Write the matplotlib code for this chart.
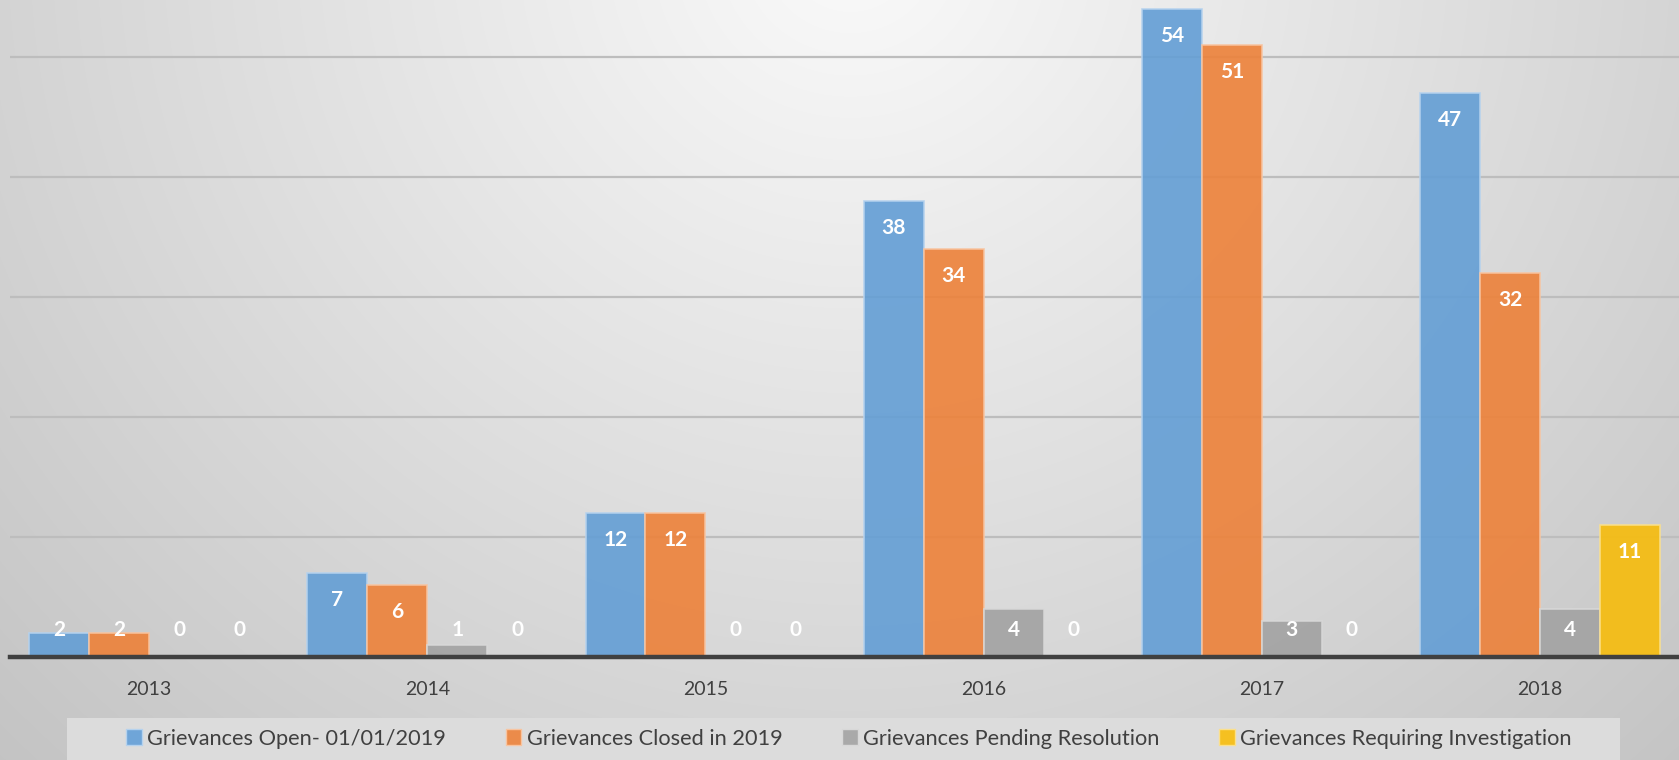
import numpy as np
import matplotlib
matplotlib.use("Agg")
import matplotlib.pyplot as plt
from matplotlib.patches import Rectangle, Patch

years = ["2013", "2014", "2015", "2016", "2017", "2018"]
series_names = ["Grievances Open- 01/01/2019", "Grievances Closed in 2019",
                "Grievances Pending Resolution", "Grievances Requiring Investigation"]
open_vals = [2, 7, 12, 38, 54, 47]
closed_vals = [2, 6, 12, 34, 51, 32]
pending_vals = [0, 1, 0, 4, 3, 4]
investig_vals = [0, 0, 0, 0, 0, 11]
series_vals = [open_vals, closed_vals, pending_vals, investig_vals]
colors = ["#639ed5", "#ed8139", "#a2a2a2", "#f7bc0b"]
legend_colors = ["#6fa5d8", "#eb8b4a", "#a9a9a9", "#f5c021"]
edges = ["#b5d2ee", "#f8c4a0", "#d8d8d8", "#fbe08c"]

plt.rcParams['font.family'] = ['Lato', 'DejaVu Sans']

W, H = 1679, 760
fig = plt.figure(figsize=(W / 100, H / 100), dpi=100)

# background gradient
bg = fig.add_axes([0, 0, 1, 1])
yy, xx = np.mgrid[0:H, 0:W]
d = np.sqrt(((xx - 850) / 850) ** 2 + ((yy + 50) / 810) ** 2)
val = np.clip(0.98 - 0.15 * d, 0, 1)
img = np.dstack([val, val, val])
bg.imshow(img, aspect='auto', extent=[0, 1, 0, 1], origin='upper')
bg.set_axis_off()
bg.set_zorder(-5)

# legend box
fig.patches.append(Rectangle((67 / W, 0), (1620 - 67) / W, 42 / H,
                             transform=fig.transFigure, facecolor="#dcdcdc",
                             edgecolor="none", zorder=0))

axb = 103 / H
ax = fig.add_axes([10 / W, axb, (W - 10) / W, 1 - axb])
ax.patch.set_alpha(0)
ylim_top = 657.5 / 12
ax.set_ylim(0, ylim_top)
ax.set_xlim(-0.5, len(years) - 0.5)

x = np.arange(len(years))
bw = 0.2155
for i, (vals, c, e) in enumerate(zip(series_vals, colors, edges)):
    xs = x + (i - 1.5) * bw
    ax.bar(xs, vals, width=bw, color=c, alpha=0.9, edgecolor=e, linewidth=1.2, zorder=3,
           label=series_names[i])
    for xi, v in zip(xs, vals):
        ax.annotate(str(v), xy=(xi, max(v, 4.5)), xytext=(0, -27),
                    textcoords='offset pixels', ha='center', va='center',
                    color='white', fontweight='bold', fontsize=15, zorder=5)

ax.set_yticks([10, 20, 30, 40, 50])
ax.yaxis.grid(True, color="#bdbdbd", linewidth=1.6, zorder=0)
ax.set_axisbelow(True)
ax.tick_params(axis='y', left=False, labelleft=False)
ax.set_xticks(x)
ax.set_xticklabels(years, fontsize=14, color="#404040")
ax.tick_params(axis='x', length=0, pad=17)
for s in ['top', 'right', 'left']:
    ax.spines[s].set_visible(False)
ax.spines['bottom'].set_color("#404040")
ax.spines['bottom'].set_linewidth(3.2)
ax.spines['bottom'].set_zorder(6)

handles = [Patch(facecolor=c, edgecolor=e, linewidth=1) for c, e in zip(legend_colors, edges)]
fig.legend(handles, series_names, loc='center', bbox_to_anchor=(849 / W, 21 / H),
           ncol=4, frameon=False, fontsize=15.7, handlelength=0.7, handleheight=0.75,
           handletextpad=0.25, columnspacing=2.75, labelcolor="#404040")

fig.savefig("out.png", dpi=100)
